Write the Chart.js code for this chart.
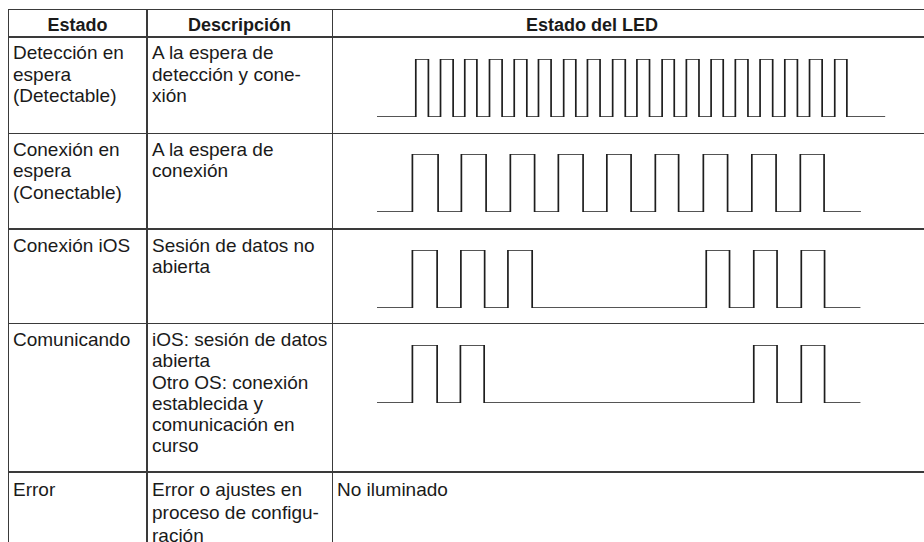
<!DOCTYPE html>
<html><head><meta charset="utf-8">
<script src="https://cdn.jsdelivr.net/npm/chart.js@4"></script>
<style>
html,body{margin:0;padding:0;background:#fff;}
body{width:924px;height:542px;overflow:hidden;position:relative;font-family:"Liberation Sans",Arial,Helvetica,sans-serif;color:#1a1a1a;}
.h{position:absolute;left:7.5px;right:0;height:1.5px;background:#3a3a3a;}
.v{position:absolute;top:8.5px;bottom:0;width:1.5px;background:#3a3a3a;}
.t{position:absolute;font-size:19px;line-height:21.3px;white-space:nowrap;}
.hd{position:absolute;font-size:18px;font-weight:bold;text-align:center;line-height:20px;top:15.4px;white-space:nowrap;}
canvas{position:absolute;}
</style></head><body>
<div id="root"></div>
<script>
// ---- text content ----
const headers = ["Estado", "Descripción", "Estado del LED"];
const stateLabels = [
  ["Detección en", "espera", "(Detectable)"],
  ["Conexión en", "espera", "(Conectable)"],
  ["Conexión iOS"],
  ["Comunicando"],
  ["Error"]
];
const descriptions = [
  ["A la espera de", "detección y cone-", "xión"],
  ["A la espera de", "conexión"],
  ["Sesión de datos no", "abierta"],
  ["iOS: sesión de datos", "abierta", "Otro OS: conexión", "establecida y", "comunicación en", "curso"],
  ["Error o ajustes en", "proceso de configu-", "ración"]
];
const ledTextRow5 = "No iluminado";

// ---- LED waveform data (time in s) ----
const detectableOn  = [0.80,1.31,1.81,2.32,2.83,3.33,3.85,4.34,4.86,5.36,5.88,6.38,6.89,7.39,7.90,8.41,8.92,9.44];
const detectableOff = [1.06,1.57,2.06,2.58,3.09,3.59,4.10,4.60,5.12,5.62,6.13,6.64,7.14,7.65,8.16,8.67,9.18,9.69];
const detectableEnd = 10.48;

const connectableOn  = [0.73,1.74,2.75,3.74,4.74,5.74,6.73,7.73,8.73];
const connectableOff = [1.26,2.25,3.25,4.25,5.24,6.22,7.23,8.23,9.22];
const connectableEnd = 9.98;

const iosOn  = [0.73,1.73,2.70,6.79,7.77,8.75];
const iosOff = [1.24,2.22,3.20,7.27,8.25,9.23];
const iosEnd = 9.97;

const commOn  = [0.73,1.72,7.77,8.75];
const commOff = [1.24,2.21,8.25,9.23];
const commEnd = 9.97;

const ledSeries = [
  {on: detectableOn, off: detectableOff, end: detectableEnd},
  {on: connectableOn, off: connectableOff, end: connectableEnd},
  {on: iosOn, off: iosOff, end: iosEnd},
  {on: commOn, off: commOff, end: commEnd}
];

// ---- layout (positions only) ----
const colLines = [7.5, 146, 331.5];
const rowLines = [8.5, 36, 132.5, 228.3, 322.6, 471.3];
const rowTops = [36.7, 133.3, 229, 323.3, 472];
const rowLineHeight = [21.3, 21.3, 21.3, 21.3, 23];
const textLeft = [13, 152, 337];
const highY = [59.3, 154.3, 250, 345];
const lowY  = [117.7, 212.3, 307.7, 403.3];

const root = document.getElementById('root');
function el(cls, style, html){
  const d = document.createElement('div');
  d.className = cls; d.setAttribute('style', style);
  if (html !== undefined) d.innerHTML = html;
  root.appendChild(d); return d;
}
rowLines.forEach(y => el('h', 'top:' + y + 'px'));
colLines.forEach(x => el('v', 'left:' + x + 'px'));

// headers
el('hd', 'left:8px;width:139px', headers[0]);
el('hd', 'left:147px;width:185px', headers[1]);
el('hd', 'left:332px;width:520px', headers[2]);

function esc(s){return s.replace(/&/g,'&amp;').replace(/</g,'&lt;');}
stateLabels.forEach((lines, i) => {
  el('t', 'left:' + textLeft[0] + 'px;top:' + (rowTops[i] + 5.7) + 'px;line-height:' + rowLineHeight[i] + 'px', lines.map(esc).join('<br>'));
});
descriptions.forEach((lines, i) => {
  el('t', 'left:' + textLeft[1] + 'px;top:' + (rowTops[i] + 5.7) + 'px;line-height:' + rowLineHeight[i] + 'px', lines.map(esc).join('<br>'));
});
el('t', 'left:' + textLeft[2] + 'px;top:' + (rowTops[4] + 5.7) + 'px;line-height:' + rowLineHeight[4] + 'px', esc(ledTextRow5));

// waveforms
const PAD = 4;
ledSeries.forEach((s, i) => {
  const pts = [{x: 0, y: 0}];
  for (let k = 0; k < s.on.length; k++) {
    pts.push({x: s.on[k], y: 1});
    pts.push({x: s.off[k], y: 0});
  }
  pts.push({x: s.end, y: 0});
  const c = document.createElement('canvas');
  const w = 522, h = Math.round(lowY[i] - highY[i]) + 2 * PAD;
  c.width = w; c.height = h;
  c.style.left = '373px';
  c.style.top = (highY[i] - PAD) + 'px';
  c.style.width = w + 'px'; c.style.height = h + 'px';
  root.appendChild(c);
  new Chart(c.getContext('2d'), {
    type: 'line',
    data: {datasets: [{
      data: pts,
      borderColor: '#1e1e1e',
      borderWidth: 1.7,
      pointRadius: 0,
      stepped: 'before',
      fill: false,
      tension: 0
    }]},
    options: {
      responsive: false,
      animation: false,
      devicePixelRatio: 1,
      layout: {padding: {left: PAD, right: PAD, top: PAD, bottom: PAD}},
      plugins: {legend: {display: false}, tooltip: {enabled: false}},
      elements: {line: {borderJoinStyle: 'miter', borderCapStyle: 'butt'}},
      scales: {
        x: {type: 'linear', min: 0, max: 10.6, display: false},
        y: {min: 0, max: 1, display: false}
      }
    }
  });
});
</script>
</body></html>
